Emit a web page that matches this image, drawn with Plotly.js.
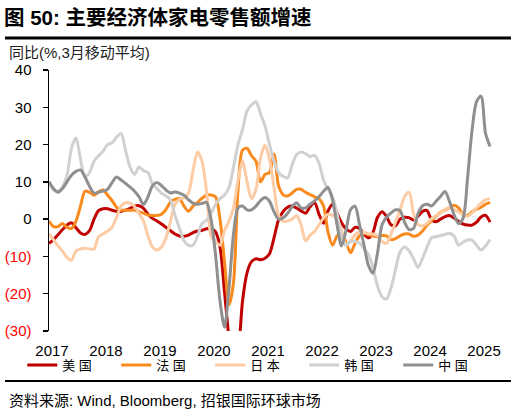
<!DOCTYPE html>
<html>
<head>
<meta charset="utf-8">
<script src="https://cdn.plot.ly/plotly-3.0.1.min.js"></script>
<style>html,body{margin:0;padding:0;background:#fff;}#chart{width:516px;height:413px;}</style>
</head>
<body>
<div id="chart"></div>
<script>
// Monthly, Jan 2017 - Mar 2025, YoY % (3-month moving average)
var years = ['2017','2018','2019','2020','2021','2022','2023','2024','2025'];
var seriesNames = ['美 国','法 国','日 本','韩 国','中 国'];
var us = [-6.5,-5.5,-4.2,-2.8,-1.6,-1,-2.3,-3.7,-4.1,-3.1,0,2.3,
2.8,2.8,2.4,2.1,2.1,2.4,2.9,3.5,3.6,2.9,1.3,0.2,
-0.5,-1.3,-2.2,-3.1,-4,-4.5,-4.6,-4.3,-3.6,-3.2,-3,-2.6,
-2.5,-3.4,-7.5,-19.5,-32,-40,-36,-22,-14.4,-11.4,-10.6,-10.9,
-10.5,-9.3,-5,-0.2,2,3.2,3.5,3,2.2,1.6,3.3,4.5,
1.3,-1.1,2.2,4,1.6,-1,-2.6,-3.3,-2.2,-2.5,-4,-5,
-3.5,0.5,2,0.7,-1.5,-1.8,0,0.5,0.4,-0.2,0.8,2.1,
2.3,-0.2,-0.7,0,0.7,1,0.3,-0.6,-1.3,-1.6,-1.6,-0.8,
0.6,1,-0.8];
var france = [-0.5,-2,-2,-1.2,-2.2,-2.5,-0.5,3.5,7.5,7.2,6.4,7.3,
7.8,6.5,5,3.2,2.4,2.4,2.4,2.4,2,1.6,1.1,1,
1,1.3,2.6,4.6,5.3,5.5,3.5,2.1,3.5,4.5,5.6,6.4,
6.5,6,0,-11.5,-23,-17,8,18.5,19,17,15.5,10,
12,12.5,17.5,9,6.6,6.2,7,8,8,7.2,6.6,6,
5.5,3.5,-3.5,-7,-4.5,-3.8,-6.2,-9,-6.5,-4.5,-3.8,-4.2,
-4.5,-4.7,-4.4,-4.5,-5.5,-5.2,-4.5,-4,-4,-4.6,-4.3,-3.2,
-1.6,-0.4,0.8,1.8,2.5,3.1,3.7,3,1.2,1,2,2.7,
3.2,4,4.5];
var japan = [-4,-5.5,-7.2,-8.6,-10.3,-11,-8.5,-8,-7.8,-8,-8,-4.7,
-4,-3.2,-2.2,0.5,3.5,4.4,4.3,3.4,1.5,-0.5,-4.5,-7.5,
-8.3,-7.5,-5,-0.5,4,5.3,5.7,7,13,18,15.5,7.5,
-4.5,-6,-7,-3,-0.5,3,10.5,15.6,10,5.5,8,16.5,
19.8,16,8.5,1,-0.6,-0.5,0,1,-1.5,-5.8,-4.3,-3.3,
-1.5,0.3,1.3,1,0,-3,-7,-5.8,-4.3,-3.4,-3.6,-3.9,
-4,-4.5,-6,-6.5,-4,-0.8,2.5,6,7.2,1.5,-1.5,-1.8,
-1.1,0.1,0.9,1.6,2.6,3.2,2.6,1.9,1.2,0.7,1.7,3,
4.3,5.2,5.5];
var korea = [10,7.8,7.5,8.7,11.8,19,21.8,16,11.3,12.5,15.5,17,
18.2,20,20.5,22,23,18.5,14,12,14,13,12.5,9.4,
8.2,7,6.2,5.2,1,-2.5,-5.8,-7,-7,-4.5,-1.2,-0.3,
1.5,4,5.5,6.5,8.5,14,20,24,29,30.6,31.5,28.2,
25,20,15.5,12.5,11.5,11,14.5,17.3,18,17.6,16.8,17.1,
15,10.5,8,6,1.5,-4.5,-7,-6,-6,-6.4,-8,-9.5,
-13,-18,-20.8,-21.4,-18.5,-13.5,-8.8,-7.5,-8.5,-10.6,-13,-10.5,
-7.5,-5,-4.7,-4.4,-4.1,-3.8,-4.5,-7,-6.2,-5.6,-5.6,-7,
-8.3,-7.2,-5.5];
var china = [10,8.2,7.2,8.2,10,11.8,12.8,13.2,11.3,8.8,7,7.2,
7.5,8,9.8,11.3,10.5,9.6,8.6,7.5,6,3.9,6,9,
9.8,9,7.8,7,7.3,7,6.4,5.2,4.3,4,4.2,4.5,
0,-9.5,-22,-29,-18.5,-4,3,3.5,2.5,2.5,3.5,5,
5.8,4.8,2,0,0.3,1.5,3.3,4.4,3,3,4,4.9,
6,7.5,8.5,5.2,-1.5,-7.2,-3,2.5,3.5,-1.5,-7,-12.5,
-14.5,-9,-1.5,0.5,1.7,2.5,2.3,-0.8,-2.8,-2.5,1.5,3.6,
4,3.5,4.8,6.1,7.4,4.7,1.2,-1.2,0.2,11,23.8,31.5,
33,23,19.5];
var colors = ['#C00000','#F98A1E','#FDCBA4','#D0D0D0','#8F8F8F'];
var yTickVals = [-30,-20,-10,0,10,20,30,40];
var yTickText = ['(30)','(20)','(10)','0','10','20','30','40'];

var months = us.map(function(_, i){ return i; });
var allSeries = [us, france, japan, korea, china];
var traces = allSeries.map(function(vals, k){
  return {
    x: months, y: vals, type: 'scatter', mode: 'lines',
    name: seriesNames[k],
    line: {color: colors[k], width: 3, shape: 'spline', smoothing: 0.8},
    hoverinfo: 'skip'
  };
});

var font = 'Liberation Sans, Arial, Noto Sans CJK SC, sans-serif';
var xRange = [0, 99.1];
var yearTicks = years.map(function(_, i){ return i * 12 + 0.67; });
var boundaryTicks = years.slice(1).map(function(_, i){ return (i + 1) * 12; });
var yText = yTickVals.map(function(v, i){
  return v < 0 ? '<span style="color:#FF0000">' + yTickText[i] + '</span>' : yTickText[i];
});

var layout = {
  width: 516, height: 413,
  margin: {l: 49, r: 21, t: 70, b: 82},
  paper_bgcolor: '#ffffff', plot_bgcolor: 'rgba(0,0,0,0)',
  font: {family: font, color: '#000'},
  showlegend: true,
  title: {
    text: '<b>图 50: 主要经济体家电零售额增速</b>',
    x: 4/516, xref: 'container', xanchor: 'left',
    y: 1 - 18/413, yref: 'container', yanchor: 'middle',
    font: {size: 20.5, color: '#000', family: font}
  },
  xaxis: {
    range: xRange, showline: false, showgrid: false, zeroline: false,
    tickmode: 'array', tickvals: yearTicks, ticktext: years, ticks: '',
    tickfont: {size: 15, color: '#000', family: font},
    ticklabelstandoff: 9, fixedrange: true
  },
  xaxis2: {
    overlaying: 'x', anchor: 'free', position: 3/7,
    range: xRange, showline: true, linecolor: '#000', linewidth: 1.5,
    showgrid: false, zeroline: false,
    tickmode: 'array', tickvals: boundaryTicks, ticks: 'outside', ticklen: 4,
    tickwidth: 1.5, tickcolor: '#000', showticklabels: false, fixedrange: true
  },
  yaxis: {
    range: [-30, 40], showline: true, linecolor: '#000', linewidth: 1.5,
    showgrid: false, zeroline: false,
    tickmode: 'array', tickvals: yTickVals, ticktext: yText,
    ticks: 'outside', ticklen: 5, tickwidth: 1.5, tickcolor: '#000',
    tickfont: {size: 15, color: '#000', family: font},
    ticklabelstandoff: 8, fixedrange: true
  },
  legend: {
    orientation: 'h', x: -0.06, xanchor: 'left', y: -0.13, yanchor: 'middle',
    font: {size: 13, color: '#000', family: font},
    entrywidth: 49, entrywidthmode: 'pixels', tracegroupgap: 0,
    bgcolor: 'rgba(0,0,0,0)', itemclick: false, itemdoubleclick: false
  },
  annotations: [
    {text: '同比(%,3月移动平均)', xref: 'paper', yref: 'paper',
     x: (7-49)/446, y: (331-52)/261, xanchor: 'left', yanchor: 'middle',
     showarrow: false, font: {size: 15, color: '#222', family: font}},
    {text: '资料来源: Wind, Bloomberg, 招银国际环球市场', xref: 'paper', yref: 'paper',
     x: (7-49)/446, y: (331-400)/261, xanchor: 'left', yanchor: 'middle',
     showarrow: false, font: {size: 15, color: '#000', family: font}}
  ],
  shapes: [
    {type: 'line', xref: 'paper', yref: 'paper',
     x0: (5-49)/446, x1: (511-49)/446, y0: (331-38)/261, y1: (331-38)/261,
     line: {color: '#000', width: 3}},
    {type: 'line', xref: 'paper', yref: 'paper',
     x0: (5-49)/446, x1: (511-49)/446, y0: (331-381)/261, y1: (331-381)/261,
     line: {color: '#000', width: 2}}
  ]
};

Plotly.newPlot('chart', traces, layout, {displayModeBar: false, staticPlot: true});
</script>
</body>
</html>
